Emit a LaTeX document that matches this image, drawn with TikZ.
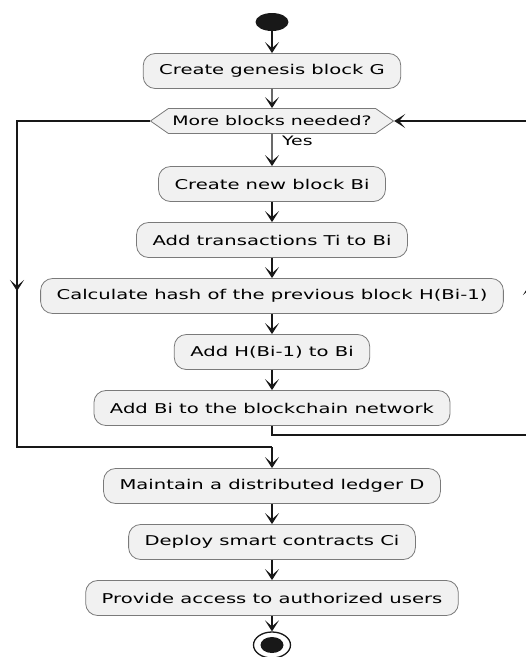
\documentclass[tikz,border=0pt]{standalone}
\usepackage{fontspec}
\setmainfont{DejaVu Sans}[FakeStretch=1.45]
\usetikzlibrary{arrows.meta,positioning,calc,shapes.geometric,shapes.symbols}
\definecolor{ActFill}{HTML}{F1F1F1}
\definecolor{ActLine}{HTML}{7A7A7A}
\definecolor{FlowLine}{HTML}{181818}

\begin{document}
\begin{tikzpicture}[x=1pt,y=-1pt,
    act/.style={rounded corners=12pt,fill=ActFill,draw=ActLine,line width=0.8pt,
      minimum height=35pt,inner xsep=16pt,font=\fontsize{13.5}{16}\selectfont},
    choice/.style={signal,signal to=west and east,signal pointer angle=70,fill=ActFill,
      draw=ActLine,line width=0.8pt,minimum height=25pt,minimum width=243pt,inner xsep=2pt,
      font=\fontsize{13}{15}\selectfont},
    flow/.style={FlowLine,line width=1.3pt,-{Stealth[length=11pt,width=14pt,inset=6pt]}},
    wire/.style={FlowLine,line width=1.3pt}]
    \useasboundingbox (0,0) rectangle (526,657);
    \clip (0,0) rectangle (526,657);
    % start and actions
    \node[ellipse,fill=FlowLine,minimum width=33pt,minimum height=18pt,inner sep=0pt] (start) at (272,22) {};
    \node[act] (genesis) at (272,71) {Create genesis block G};
    \node[choice] (more) at (272,121) {More blocks needed?};
    \node[anchor=west,font=\fontsize{13}{15}\selectfont,inner sep=0pt] (yes) at (282,141) {Yes};
    \node[act] (newblock) at (272,184) {Create new block Bi};
    \node[act] (addtx) at (272,240) {Add transactions Ti to Bi};
    \node[act] (hash) at (272,296) {Calculate hash of the previous block H(Bi-1)};
    \node[act] (addhash) at (272,352) {Add H(Bi-1) to Bi};
    \node[act] (network) at (272,408) {Add Bi to the blockchain network};
    \node[act] (ledger) at (272,486) {Maintain a distributed ledger D};
    \node[act] (contracts) at (272,542) {Deploy smart contracts Ci};
    \node[act] (access) at (272,598) {Provide access to authorized users};
    % end
    \node[ellipse,draw=FlowLine,fill=white,line width=1.3pt,minimum width=37pt,minimum height=26pt,inner sep=0pt] (stop) at (272,645) {};
    \node[ellipse,fill=FlowLine,minimum width=23pt,minimum height=16pt,inner sep=0pt] at (stop) {};
    % loop corners
    \coordinate (lt) at (17,121);
    \coordinate (lb) at (17,447);
    \coordinate (join) at (272,447);
    \coordinate (rb) at (530,435);
    \coordinate (rt) at (530,121);
    % flow
    \draw[flow] (start) -- (genesis);
    \draw[flow] (genesis) -- (more);
    \draw[flow] (more) -- (newblock);
    \draw[flow] (newblock) -- (addtx);
    \draw[flow] (addtx) -- (hash);
    \draw[flow] (hash) -- (addhash);
    \draw[flow] (addhash) -- (network);
    \draw[flow] (ledger) -- (contracts);
    \draw[flow] (contracts) -- (access);
    \draw[flow] (access) -- (stop);
    % loop back and exit
    \draw[wire] (network.south) |- (rb) -- (rt);
    \draw[flow] (rb) -- (530,284);
    \draw[flow] (rt) -- (more.east);
    \draw[wire] (more.west) -- (lt) -- (lb) -- (join);
    \draw[flow] (lt) -- (17,291);
    \draw[flow] (join) -- (ledger);
  \end{tikzpicture}
\end{document}
